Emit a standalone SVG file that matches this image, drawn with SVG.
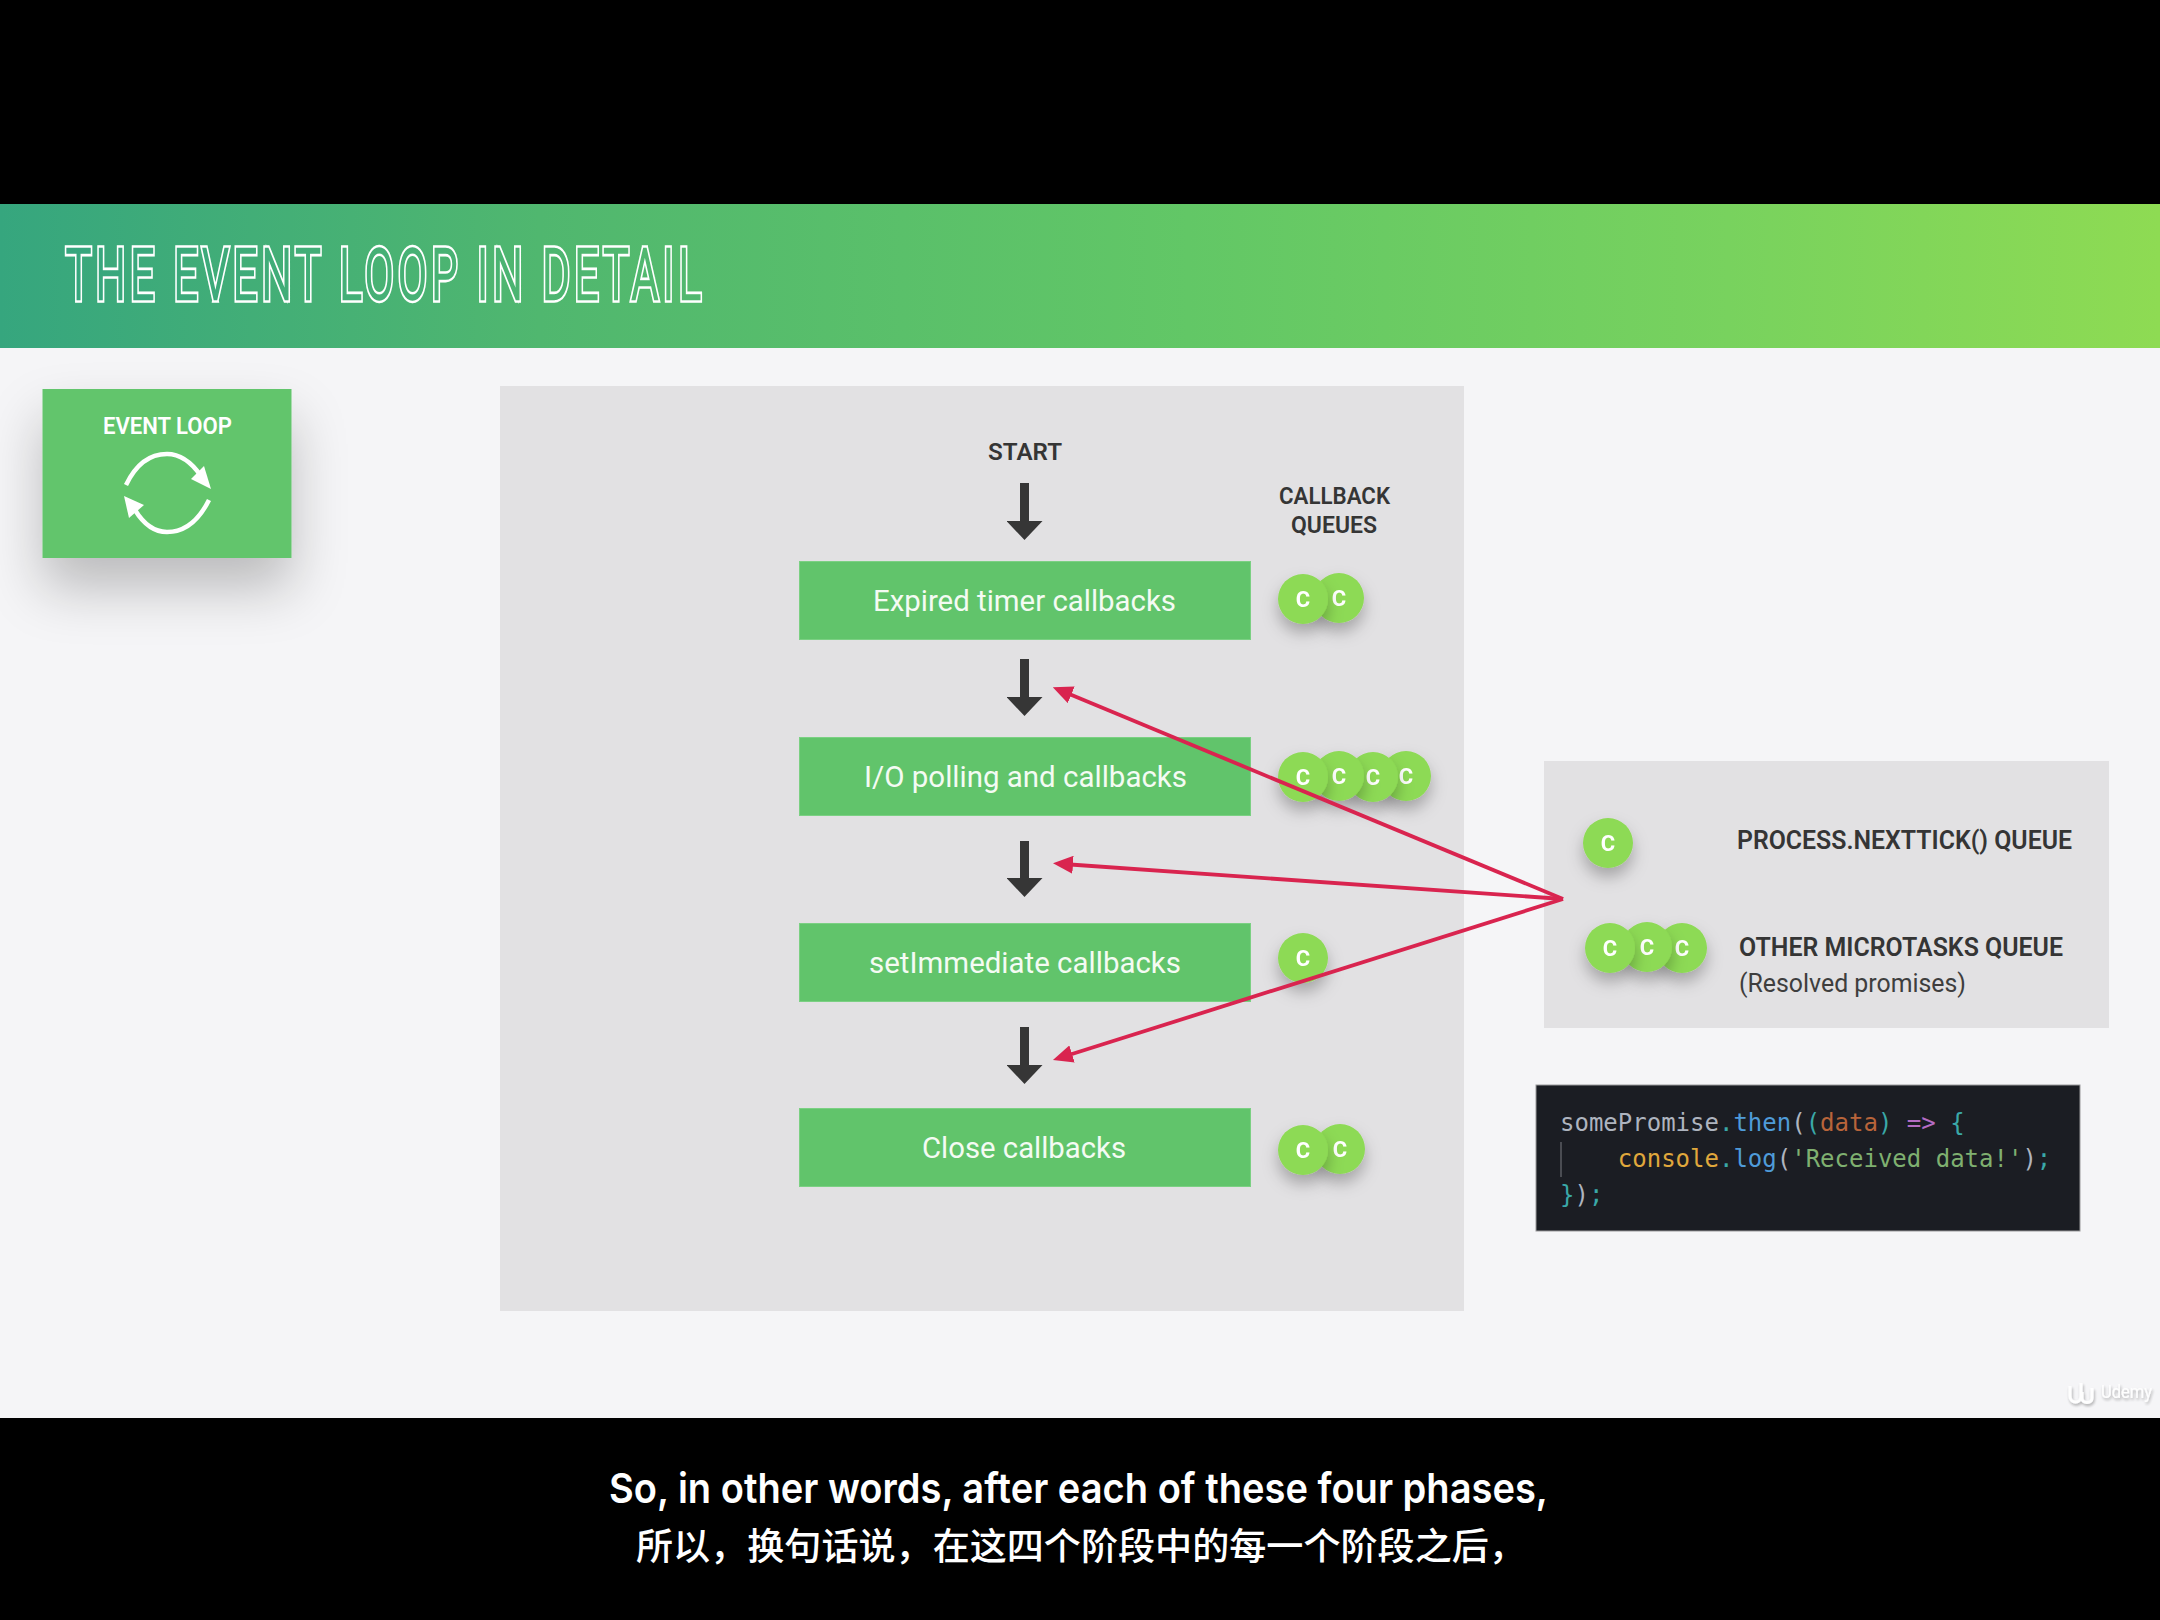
<svg xmlns="http://www.w3.org/2000/svg" width="2160" height="1620" viewBox="0 0 2160 1620">
<style>
text{font-family:Roboto,"Liberation Sans",sans-serif}
.panel{fill:#e2e1e3}
.step{fill:#61c46b;stroke:#7bd083;stroke-width:1}
.steptxt{fill:#f4fbf3;font-size:30px;font-weight:400;text-anchor:start}
.hd{fill:#353535;font-size:24px;font-weight:600;text-anchor:start}
.lbl{fill:#353535;font-size:25px;font-weight:600}
.c circle{fill:#8dda54}
.c text{fill:#fff;font-size:22px;font-weight:700;text-anchor:middle}
.flow{stroke:#363636;stroke-width:9;fill:none;marker-end:url(#dark)}
.micro{stroke:#d9244f;stroke-width:3.8;fill:none}
.code text{font-family:"DejaVu Sans Mono",monospace;font-size:24px;white-space:pre}
.sub{fill:#fff}
</style>
<defs>
<linearGradient id="hdr" gradientUnits="userSpaceOnUse" x1="0" y1="0" x2="2160" y2="0">
<stop offset="0" stop-color="#36a67e"/><stop offset=".25" stop-color="#50b76f"/><stop offset=".55" stop-color="#62c766"/><stop offset=".8" stop-color="#78d25e"/><stop offset="1" stop-color="#8edb53"/>
</linearGradient>
<linearGradient id="hdrT" gradientUnits="userSpaceOnUse" x1="0" y1="0" x2="3600" y2="0">
<stop offset="0" stop-color="#36a67e"/><stop offset=".25" stop-color="#50b76f"/><stop offset="1" stop-color="#62c766"/>
</linearGradient>
<filter id="bigshadow" x="-50%" y="-40%" width="200%" height="220%"><feDropShadow dx="0" dy="30" stdDeviation="27" flood-color="#000" flood-opacity=".24"/></filter>
<filter id="dot" x="-80%" y="-80%" width="260%" height="280%"><feDropShadow dx="0" dy="9" stdDeviation="8" flood-color="#000" flood-opacity=".27"/></filter>
<filter id="logo" x="-30%" y="-30%" width="160%" height="160%"><feDropShadow dx="1" dy="2" stdDeviation="1.5" flood-color="#000" flood-opacity=".35"/></filter>
<marker id="dark" markerUnits="userSpaceOnUse" markerWidth="20" markerHeight="36" refX="2" refY="18" viewBox="0 0 20 36" orient="auto"><path d="M0 0L19 18L0 36Z" fill="#363636"/></marker>
<marker id="red" markerUnits="userSpaceOnUse" markerWidth="20" markerHeight="18" refX="10" refY="9" viewBox="0 0 20 18" orient="auto"><path d="M0 0L20 9L0 18Z" fill="#d9244f"/></marker>
</defs>

<rect width="2160" height="1620" fill="#000"/>
<rect id="canvas" y="348" width="2160" height="1070" fill="#f5f5f7"/>

<g id="header">
<rect y="204" width="2160" height="144" fill="url(#hdr)"/>
<g transform="translate(66 299) scale(.6 1)">
<text x="0" y="0" font-size="70" font-weight="300" textLength="1058" lengthAdjust="spacing" fill="none" stroke="#fff" stroke-width="7.5">THE EVENT LOOP IN DETAIL</text>
<text x="0" y="0" font-size="70" font-weight="300" textLength="1058" lengthAdjust="spacing" fill="url(#hdrT)" stroke="url(#hdrT)" stroke-width="2.4">THE EVENT LOOP IN DETAIL</text>
</g>
</g>

<g id="event-loop">
<rect x="42.5" y="389" width="249" height="169" fill="#62c56c" filter="url(#bigshadow)"/>
<text x="103" y="434" font-size="23" font-weight="600" fill="#fff" textLength="129" lengthAdjust="spacingAndGlyphs">EVENT LOOP</text>
<path d="M126 485C137 462 152 454 167 454C181 454 192 463 201 476" fill="none" stroke="#fff" stroke-width="4.5"/>
<path d="M211 489L191 479L204 466Z" fill="#fff"/>
<path d="M209 500C198 522 183 532 167 532C153 532 143 523 135 510" fill="none" stroke="#fff" stroke-width="4.5"/>
<path d="M124 496L144 505L129 518Z" fill="#fff"/>
</g>

<rect id="loop-panel" class="panel" x="500" y="386" width="964" height="925"/>
<text id="start" class="hd" x="988" y="460" textLength="74" lengthAdjust="spacingAndGlyphs">START</text>
<g id="queues-title">
<text class="hd" x="1279" y="504" textLength="111" lengthAdjust="spacingAndGlyphs">CALLBACK</text>
<text class="hd" x="1291" y="533" textLength="86" lengthAdjust="spacingAndGlyphs">QUEUES</text>
</g>

<g id="expired-timer"><rect class="step" x="799.5" y="561.5" width="451" height="78"/><text class="steptxt" x="873" y="611" textLength="303" lengthAdjust="spacingAndGlyphs">Expired timer callbacks</text></g>
<g id="io-polling"><rect class="step" x="799.5" y="737.5" width="451" height="78"/><text class="steptxt" x="864" y="787" textLength="323" lengthAdjust="spacingAndGlyphs">I/O polling and callbacks</text></g>
<g id="set-immediate"><rect class="step" x="799.5" y="923.5" width="451" height="78"/><text class="steptxt" x="869" y="973" textLength="312" lengthAdjust="spacingAndGlyphs">setImmediate callbacks</text></g>
<g id="close"><rect class="step" x="799.5" y="1108.5" width="451" height="78"/><text class="steptxt" x="922" y="1158" textLength="204" lengthAdjust="spacingAndGlyphs">Close callbacks</text></g>

<g id="queue-expired" class="c">
<g filter="url(#dot)" transform="translate(1339 598)"><circle r="25"/><text y="8">C</text></g>
<g filter="url(#dot)" transform="translate(1303 599)"><circle r="25"/><text y="8">C</text></g>
</g>
<g id="queue-io" class="c">
<g filter="url(#dot)" transform="translate(1406 776)"><circle r="25"/><text y="8">C</text></g>
<g filter="url(#dot)" transform="translate(1373 777)"><circle r="25"/><text y="8">C</text></g>
<g filter="url(#dot)" transform="translate(1339 776)"><circle r="25"/><text y="8">C</text></g>
<g filter="url(#dot)" transform="translate(1303 777)"><circle r="25"/><text y="8">C</text></g>
</g>
<g id="queue-immediate" class="c">
<g filter="url(#dot)" transform="translate(1303 958)"><circle r="25"/><text y="8">C</text></g>
</g>
<g id="queue-close" class="c">
<g filter="url(#dot)" transform="translate(1340 1149)"><circle r="25"/><text y="8">C</text></g>
<g filter="url(#dot)" transform="translate(1303 1150)"><circle r="25"/><text y="8">C</text></g>
</g>

<g id="microtasks">
<rect class="panel" x="1544" y="761" width="565" height="267"/>
<g class="c">
<g filter="url(#dot)" transform="translate(1608 843)"><circle r="25"/><text y="8">C</text></g>
<g filter="url(#dot)" transform="translate(1682 948)"><circle r="25"/><text y="8">C</text></g>
<g filter="url(#dot)" transform="translate(1647 947)"><circle r="25"/><text y="8">C</text></g>
<g filter="url(#dot)" transform="translate(1610 948)"><circle r="25"/><text y="8">C</text></g>
</g>
<text class="lbl" x="1737" y="849" textLength="335" lengthAdjust="spacingAndGlyphs">PROCESS.NEXTTICK() QUEUE</text>
<text class="lbl" x="1739" y="956" textLength="324" lengthAdjust="spacingAndGlyphs">OTHER MICROTASKS QUEUE</text>
<text x="1739" y="992" font-size="25" fill="#3e3e3e" textLength="227" lengthAdjust="spacingAndGlyphs">(Resolved promises)</text>
</g>

<g id="code" class="code">
<rect x="1536" y="1085" width="544" height="146" fill="#1b1d23" stroke="#9a9a9c" stroke-width="1"/>
<line x1="1561" y1="1142" x2="1561" y2="1177" stroke="#4a4c52" stroke-width="2"/>
<text x="1560" y="1131" xml:space="preserve" fill="#aeb4bf">somePromise<tspan fill="#3aa8a8">.</tspan><tspan fill="#4f9bd9">then</tspan>(<tspan fill="#3aa8a8">(</tspan><tspan fill="#b8643a">data</tspan><tspan fill="#3aa8a8">)</tspan> <tspan fill="#b56cc4">=&gt;</tspan> <tspan fill="#3aa8a8">{</tspan></text>
<text x="1560" y="1167" xml:space="preserve" fill="#aeb4bf">    <tspan fill="#e0a83c">console</tspan><tspan fill="#3aa8a8">.</tspan><tspan fill="#4f9bd9">log</tspan>(<tspan fill="#7fb070">'Received data!'</tspan>)<tspan fill="#3aa8a8">;</tspan></text>
<text x="1560" y="1203" xml:space="preserve" fill="#aeb4bf"><tspan fill="#3aa8a8">}</tspan>)<tspan fill="#3aa8a8">;</tspan></text>
</g>

<g id="connectors">
<line class="flow" x1="1024.5" y1="483" x2="1024.5" y2="523"/>
<line class="flow" x1="1024.5" y1="659" x2="1024.5" y2="699"/>
<line class="flow" x1="1024.5" y1="841" x2="1024.5" y2="880"/>
<line class="flow" x1="1024.5" y1="1027" x2="1024.5" y2="1067"/>
<line class="micro" x1="1563" y1="899" x2="1062" y2="691" marker-end="url(#red)"/>
<line class="micro" x1="1563" y1="899" x2="1063" y2="864" marker-end="url(#red)"/>
<line class="micro" x1="1563" y1="899" x2="1062.5" y2="1057" marker-end="url(#red)"/>
</g>

<g id="watermark" filter="url(#logo)" opacity=".9">
<path d="M2070 1386V1396C2070 1404 2081 1404 2081 1396V1383M2082 1392V1398C2082 1404 2092 1404 2092 1398V1388" fill="none" stroke="#fff" stroke-width="3"/>
<text x="2101" y="1398" font-size="18" fill="#fff" textLength="51" lengthAdjust="spacingAndGlyphs">Udemy</text>
</g>

<g id="subtitles">
<text class="sub" x="609" y="1503" font-size="41" font-weight="600" textLength="939" lengthAdjust="spacingAndGlyphs" style="font-family:Inter,'Liberation Sans',sans-serif">So, in other words, after each of these four phases,</text>
<text class="sub" x="636" y="1560" font-size="37.1" font-weight="500" style="font-family:'Noto Sans CJK SC',sans-serif">所以，换句话说，在这四个阶段中的每一个阶段之后，</text>
</g>
</svg>
